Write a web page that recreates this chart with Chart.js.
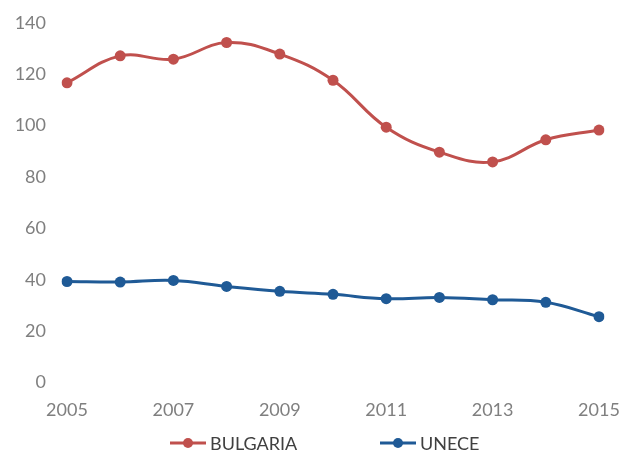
<!DOCTYPE html>
<html>
<head>
<meta charset="utf-8">
<script src="https://cdn.jsdelivr.net/npm/chart.js@4"></script>
<style>
  html, body { margin: 0; padding: 0; background: #fff; }
  #wrap { width: 621px; height: 453px; }
</style>
</head>
<body>
<div id="wrap"><canvas id="chart" width="621" height="453"></canvas></div>
<script>
// Data
const years = ['2005', '2006', '2007', '2008', '2009', '2010', '2011', '2012', '2013', '2014', '2015'];
const bulgaria = [116.7, 127.2, 125.9, 132.4, 127.9, 117.7, 99.4, 89.7, 85.9, 94.5, 98.3];
const unece = [39.3, 39.1, 39.7, 37.4, 35.5, 34.3, 32.6, 33.1, 32.2, 31.2, 25.6];
const seriesNames = ['BULGARIA', 'UNECE'];

const RED = '#C0504D';
const BLUE = '#1F5A96';
const FONT = 'Lato, "Open Sans", sans-serif';

// Draws the legend below the axis: a short line with a dot, then the name
const bottomLegend = {
    id: 'bottomLegend',
    afterDraw(chart) {
        const ctx = chart.ctx;
        const y = 443;
        const items = [
            { x: 170, color: RED, text: seriesNames[0] },
            { x: 380, color: BLUE, text: seriesNames[1] }
        ];
        ctx.save();
        items.forEach(item => {
            ctx.strokeStyle = item.color;
            ctx.lineWidth = 3;
            ctx.beginPath();
            ctx.moveTo(item.x, y);
            ctx.lineTo(item.x + 36, y);
            ctx.stroke();
            ctx.fillStyle = item.color;
            ctx.beginPath();
            ctx.arc(item.x + 18, y, 5, 0, Math.PI * 2);
            ctx.fill();
            ctx.fillStyle = '#404040';
            ctx.font = '18px ' + FONT;
            ctx.textBaseline = 'middle';
            ctx.textAlign = 'left';
            ctx.fillText(item.text, item.x + 40, y + 1);
        });
        ctx.restore();
    }
};

const ctx = document.getElementById('chart').getContext('2d');
const chart = new Chart(ctx, {
    type: 'line',
    data: {
        labels: years,
        datasets: [{
            label: seriesNames[0],
            data: bulgaria,
            borderColor: RED,
            backgroundColor: RED,
            borderWidth: 3,
            pointRadius: 5.5,
            pointBorderWidth: 0,
            tension: 0.4
        }, {
            label: seriesNames[1],
            data: unece,
            borderColor: BLUE,
            backgroundColor: BLUE,
            borderWidth: 3,
            pointRadius: 5.5,
            pointBorderWidth: 0,
            tension: 0.4
        }]
    },
    options: {
        responsive: false,
        animation: false,
        layout: { padding: { top: 23, right: 22, bottom: 15, left: 0 } },
        plugins: {
            legend: { display: false },
            tooltip: { enabled: false }
        },
        scales: {
            x: {
                offset: false,
                grid: { display: false, drawTicks: false },
                border: { display: false },
                afterFit: scale => { scale.paddingLeft = 0; scale.paddingRight = 0; },
                ticks: {
                    autoSkip: false,
                    maxRotation: 0,
                    padding: 17,
                    color: '#7F7F7F',
                    font: { family: FONT, size: 18 },
                    callback: function (value, index) {
                        return index % 2 === 0 ? this.getLabelForValue(value) : '';
                    }
                }
            },
            y: {
                min: 0,
                max: 140,
                grid: { display: false, drawTicks: false },
                border: { display: false },
                afterFit: scale => { scale.width = 67; scale.paddingTop = 0; },
                ticks: {
                    stepSize: 20,
                    padding: 21,
                    color: '#7F7F7F',
                    font: { family: FONT, size: 18 }
                }
            }
        }
    },
    plugins: [bottomLegend]
});
</script>
</body>
</html>
